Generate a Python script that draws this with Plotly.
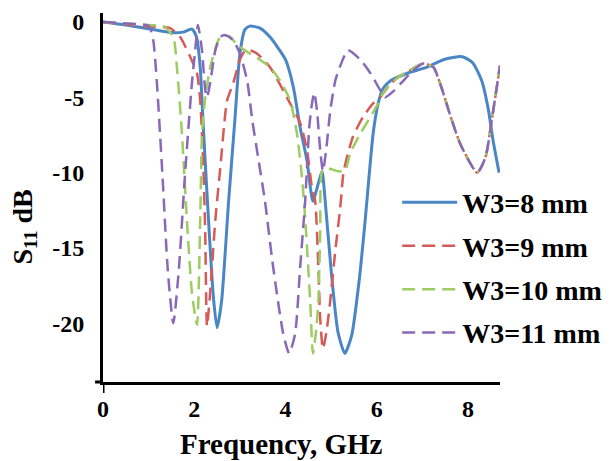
import plotly.graph_objects as go

# ---- data (frequency in GHz, S11 in dB) ----
names = ["W3=8 mm", "W3=9 mm", "W3=10 mm", "W3=11 mm"]

x_w8 = [0, 0.5, 1.0, 1.5, 1.75, 1.95, 2.05, 2.13, 2.19, 2.3, 2.42, 2.5, 2.6, 2.75, 2.89, 3.0,
        3.11, 3.22, 3.44, 3.66, 4.0, 4.17, 4.32, 4.47, 4.6, 4.72, 4.8, 4.87, 5.0, 5.15, 5.3,
        5.45, 5.62, 5.75, 5.92, 6.03, 6.14, 6.3, 6.67, 7.1, 7.46, 7.87, 8.1, 8.3, 8.45, 8.55, 8.68]
y_w8 = [0, -0.2, -0.45, -0.7, -0.67, -0.47, -1.0, -3.0, -6.5, -12.5, -18.3, -20.3, -18.5, -12.0, -6.5, -2.1,
        -0.5, -0.27, -0.4, -1.0, -2.5, -4.3, -7.0, -9.2, -11.9, -10.7, -9.9, -11.9, -16.5, -20.6, -22.0,
        -20.8, -17.0, -13.0, -7.4, -5.4, -4.4, -3.9, -3.4, -3.0, -2.5, -2.3, -2.7, -3.9, -5.9, -7.9, -10.0]

x_w9 = [0, 0.5, 1.0, 1.47, 1.69, 1.91, 2.06, 2.13, 2.2, 2.24, 2.28, 2.36, 2.46, 2.57, 2.72, 2.85,
        3.0, 3.11, 3.2, 3.38, 3.66, 4.1, 4.32, 4.47, 4.58, 4.65, 4.72, 4.76, 4.82, 4.9, 4.98, 5.09,
        5.2, 5.27, 5.37, 5.48, 5.7, 5.92, 6.07, 6.3, 6.5, 6.73, 7.02, 7.24, 7.39, 7.6, 7.83, 8.2,
        8.38, 8.53, 8.7]
y_w9 = [0, -0.15, -0.3, -0.4, -1.0, -2.3, -3.4, -5.2, -9.7, -14.0, -20.2, -17.5, -13.2, -9.7, -5.2, -4.1,
        -2.5, -1.9, -1.85, -2.1, -3.0, -5.4, -6.7, -8.5, -11.0, -11.9, -16.3, -19.7, -21.7, -20.5, -18.5, -15.2,
        -12.3, -10.0, -8.7, -7.6, -6.3, -5.4, -5.0, -4.1, -3.6, -3.2, -2.75, -3.0, -4.1, -6.1, -8.1, -10.0,
        -9.0, -6.3, -2.9]

x_w10 = [0, 0.5, 1.0, 1.32, 1.54, 1.62, 1.73, 1.84, 1.95, 2.06, 2.13, 2.17, 2.24, 2.35, 2.5, 2.6,
         2.79, 2.94, 3.22, 3.44, 3.66, 3.88, 4.1, 4.25, 4.36, 4.43, 4.54, 4.6, 4.67, 4.72, 4.76, 4.8,
         4.9, 5.15, 5.3, 5.42, 5.64, 5.86, 6.03, 6.14, 6.3, 6.5, 6.73, 7.02, 7.24, 7.39, 7.6, 7.83,
         8.2, 8.38, 8.53, 8.7]
y_w10 = [0, -0.1, -0.2, -0.27, -1.0, -3.0, -7.4, -13.2, -18.0, -20.1, -13.2, -7.4, -5.0, -3.0, -1.4, -0.87,
         -1.0, -1.5, -2.1, -2.5, -3.0, -3.9, -5.2, -7.4, -10.3, -13.0, -18.5, -22.0, -20.5, -18.5, -14.0, -9.9,
         -9.7, -9.9, -9.9, -8.7, -7.4, -6.3, -5.4, -4.7, -4.1, -3.6, -3.2, -2.75, -3.0, -4.1, -6.1, -8.1,
         -10.0, -9.0, -6.3, -2.9]

x_w11 = [0, 0.5, 1.0, 1.1, 1.18, 1.3, 1.42, 1.54, 1.66, 1.8, 1.95, 2.02, 2.08, 2.17, 2.24, 2.28,
         2.35, 2.46, 2.57, 2.68, 2.85, 3.0, 3.16, 3.27, 3.4, 3.55, 3.73, 3.95, 4.08, 4.21, 4.32, 4.43,
         4.52, 4.58, 4.63, 4.69, 4.76, 4.82, 4.89, 4.98, 5.09, 5.2, 5.37, 5.64, 5.86, 6.07, 6.18, 6.36,
         6.58, 6.8, 7.02, 7.24, 7.39, 7.6, 7.83, 8.2, 8.38, 8.53, 8.7]
y_w11 = [0, -0.1, -0.25, -1.2, -4.0, -10.0, -16.5, -20.0, -16.5, -10.0, -4.0, -1.9, -0.2, -1.9, -4.5, -5.0,
         -4.0, -1.9, -1.0, -0.87, -1.2, -2.1, -3.9, -6.5, -9.0, -11.9, -16.3, -20.7, -22.0, -20.7, -16.3, -11.9,
         -7.0, -5.4, -4.7, -5.9, -8.5, -9.9, -8.5, -5.9, -3.9, -2.9, -1.87, -2.5, -3.4, -4.5, -5.0, -4.6,
         -3.9, -3.2, -2.75, -3.0, -4.1, -6.1, -8.1, -10.0, -9.0, -6.3, -2.9]

y_ticks = [0, -5, -10, -15, -20]
x_ticks = [0, 2, 4, 6, 8]

colors = ["#4A86C5", "#D65A57", "#9ECB62", "#8A68B8"]
dashes = ["solid", "13px,7px", "13px,7px", "13px,7px"]
widths = [3, 2.5, 2.5, 2.5]

FONT = "Liberation Serif"

fig = go.Figure()
series = [(x_w8, y_w8), (x_w9, y_w9), (x_w10, y_w10), (x_w11, y_w11)]
for i, (xs, ys) in enumerate(series):
    fig.add_trace(go.Scatter(
        x=xs, y=ys, mode="lines", name=names[i], legendgroup=f"g{i}",
        line=dict(color=colors[i], width=widths[i], dash=dashes[i], shape="spline", smoothing=0.6),
    ))

# the page body adds an 8 px offset, so margins are shifted by -8 px
fig.update_layout(
    width=610, height=461,
    margin=dict(l=95, r=118, t=5, b=87, autoexpand=False),
    paper_bgcolor="white", plot_bgcolor="white",
    font=dict(family=FONT, color="black"),
    showlegend=True,
    legend=dict(
        xref="container", yref="container",
        x=0.638, y=0.632, xanchor="left", yanchor="top",
        font=dict(family=FONT, size=28, color="black", weight="bold"),
        bgcolor="rgba(0,0,0,0)", tracegroupgap=4, itemwidth=55,
    ),
    xaxis=dict(
        range=[0, 8.7], tickvals=x_ticks, ticktext=[str(v) for v in x_ticks],
        showgrid=False, zeroline=False, showline=True, linecolor="black", linewidth=3,
        ticks="", ticklabelstandoff=3, automargin=False,
        tickfont=dict(family=FONT, size=24, color="black", weight="bold"),
    ),
    yaxis=dict(
        range=[-23.9, 0.6], tickvals=y_ticks, ticktext=[str(v) for v in y_ticks],
        showgrid=False, zeroline=False, showline=True, linecolor="black", linewidth=3,
        ticks="", ticklabelstandoff=11, automargin=False,
        tickfont=dict(family=FONT, size=24, color="black", weight="bold"),
    ),
    annotations=[
        dict(text="<b>Frequency, GHz</b>", xref="paper", yref="paper", x=0.45, y=-0.168,
             xanchor="center", yanchor="middle", showarrow=False,
             font=dict(family=FONT, size=29, color="black")),
        dict(text="<b>S<sub>11</sub> dB</b>", xref="paper", yref="paper", x=-0.2, y=0.42,
             xanchor="center", yanchor="middle", showarrow=False, textangle=-90,
             font=dict(family=FONT, size=28, color="black")),
    ],
    shapes=[
        dict(type="line", xref="x", yref="paper", x0=0, x1=0, y0=0, y1=-0.03,
             line=dict(color="black", width=3)),
        dict(type="line", xref="paper", yref="paper", x0=-0.02, x1=0, y0=0, y1=0,
             line=dict(color="black", width=3)),
    ],
)

fig.write_html("out.html")
